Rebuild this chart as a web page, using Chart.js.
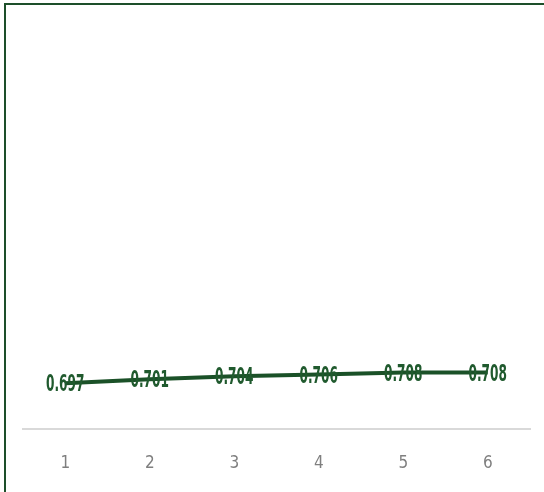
<!DOCTYPE html>
<html>
<head>
<meta charset="utf-8">
<script src="https://cdn.jsdelivr.net/npm/chart.js@4.4.1/dist/chart.umd.min.js"></script>
<style>
  body { margin: 0; background: #fff; }
  #wrap { position: relative; width: 544px; height: 492px; overflow: hidden; }
  #frame {
    position: absolute; left: 4px; top: 3px; width: 600px; height: 600px;
    border-left: 2px solid #1d4f2a; border-top: 2px solid #1d4f2a;
  }
  canvas { position: absolute; left: 0; top: 0; }
</style>
</head>
<body>
<div id="wrap">
  <div id="frame"></div>
  <canvas id="myChart" width="544" height="520"></canvas>
</div>
<script>
const categories = ["1", "2", "3", "4", "5", "6"];
const values = [0.697, 0.701, 0.704, 0.706, 0.708, 0.708];

// value labels drawn centred on each point, in a tall narrow bold face
const pointLabels = {
  id: "pointLabels",
  afterDatasetsDraw(chart) {
    const ctx = chart.ctx;
    const meta = chart.getDatasetMeta(0);
    ctx.save();
    ctx.fillStyle = "#205a2e";
    ctx.font = "bold 13.5px 'DejaVu Sans Condensed', sans-serif";
    ctx.textAlign = "center";
    ctx.textBaseline = "middle";
    meta.data.forEach((pt, i) => {
      ctx.save();
      ctx.translate(pt.x, pt.y + 2);
      ctx.scale(1, 1.75);
      ctx.fillText(values[i].toFixed(3), 0, 0);
      ctx.restore();
    });
    ctx.restore();
  }
};

const ctx = document.getElementById("myChart");

const myChart = new Chart(ctx, {
  type: "line",
  data: {
    labels: categories,
    datasets: [
      {
        data: values,
        borderColor: "#1b5128",
        borderWidth: 4,
        pointRadius: 0,
        tension: 0,
        fill: false,
      },
    ],
  },
  options: {
    responsive: false,
    animation: false,
    layout: { padding: { left: 23, right: 14, top: 90, bottom: 21 } },
    plugins: {
      legend: { display: false },
      tooltip: { enabled: false },
    },
    scales: {
      x: {
        offset: true,
        grid: { display: false, drawTicks: false },
        border: { color: "#d9d9d9", width: 2 },
        ticks: {
          color: "#7f7f7f",
          padding: 25,
          font: { family: "'DejaVu Sans Condensed', sans-serif", size: 17 },
        },
      },
      y: {
        display: false,
        min: 0.65,
        max: 1.0,
      },
    },
  },
  plugins: [pointLabels],
});
</script>
</body>
</html>
